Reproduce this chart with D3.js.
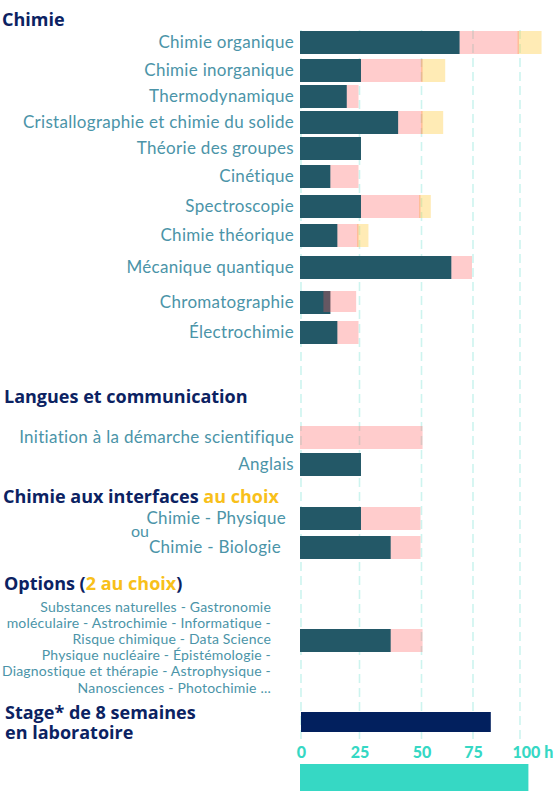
<!DOCTYPE html>
<html lang="fr">
<head>
    <meta charset="UTF-8">
    <script src="https://cdnjs.cloudflare.com/ajax/libs/d3/7.8.5/d3.min.js"></script>
    <style>
        body { margin: 0; background: #fff; }
        svg { display: block; }
    </style>
    <title>Heures de formation</title>
</head>
<body>
    <div id="graph-div"></div>
    <script>
        // categories (one per bar row)
        const categories = [
            "Chimie organique", "Chimie inorganique", "Thermodynamique",
            "Cristallographie et chimie du solide", "Théorie des groupes", "Cinétique",
            "Spectroscopie", "Chimie théorique", "Mécanique quantique", "Chromatographie",
            "Électrochimie", "Initiation à la démarche scientifique", "Anglais",
            "Chimie - Physique", "Chimie - Biologie", "Options", "Stage"
        ];
        // hours: cours (dark), TD (pink), TP (yellow)
        const cours = [69, 26, 20, 41, 26, 13, 26, 16, 65, 13, 16, 0, 26, 26, 38, 38, 0];
        const td    = [31, 25, 5, 10, 0, 12, 24, 9, 10, 11, 9, 51, 0, 24, 12, 13, 0];
        const tp    = [12, 11, 0, 10, 0, 0, 5, 4, 0, 0, 0, 0, 0, 0, 0, 0, 0];
        const tdOverlap = [0, 0, 0, 0, 0, 0, 0, 0, 0, 3, 0, 0, 0, 0, 0, 0, 0];
        const stage = [0, 0, 0, 0, 0, 0, 0, 0, 0, 0, 0, 0, 0, 0, 0, 0, 85];
        const total = [105];
        const tickValues = [0, 25, 50, 75, 100];
        const tickLabels = ["0", "25", "50", "75", "100 h"];
        const optionsText = [
            "Substances naturelles -  Gastronomie",
            "moléculaire - Astrochimie - Informatique  -",
            "Risque chimique  - Data Science",
            "Physique nucléaire - Épistémologie -",
            "Diagnostique et thérapie - Astrophysique -",
            "Nanosciences - Photochimie ..."
        ];

        const w = 555, h = 791;
        const dark = "#235867", pink = "rgba(255,85,85,0.3)", yellow = "rgba(255,200,50,0.36)";
        const navy = "#0b2262", labelCol = "#4b94a8", teal = "#36d8c4", gold = "#f8c01a";
        const font = "Lato, sans-serif";
        const headFont = "'Open Sans', sans-serif";

        // x: piecewise scale, as in the original layout
        const xScale = d3.scaleLinear()
            .domain(tickValues)
            .range([300, 358.5, 420.5, 472, 519]);

        // row layout
        const yScale = d3.scaleOrdinal()
            .domain(categories)
            .range([31, 59, 85, 111, 137, 165, 195, 224, 256, 291, 321, 426, 453, 507, 536, 629, 712]);
        const barH = 23;

        const svg = d3.select("#graph-div").append("svg")
            .attr("width", w).attr("height", h);

        const rows = categories.map((c, i) => ({
            cat: c, cours: cours[i], td: td[i], tp: tp[i], ov: tdOverlap[i], stage: stage[i]
        }));

        // gridlines
        svg.append("g").selectAll("line")
            .data(tickValues).enter().append("line")
            .attr("x1", d => xScale(d) + 1).attr("x2", d => xScale(d) + 1)
            .attr("y1", 30).attr("y2", 740)
            .attr("stroke", "#cdf4ef").attr("stroke-width", 1.6)
            .attr("stroke-dasharray", "9,5");

        const bars = svg.append("g");
        // cours
        bars.selectAll(".cours").data(rows.filter(d => d.cours > 0)).enter().append("rect")
            .attr("class", "cours")
            .attr("x", xScale(0)).attr("y", d => yScale(d.cat))
            .attr("width", d => xScale(d.cours) - xScale(0)).attr("height", barH)
            .attr("fill", dark);
        // TP (under TD edge)
        bars.selectAll(".tp").data(rows.filter(d => d.tp > 0)).enter().append("rect")
            .attr("class", "tp")
            .attr("x", d => xScale(d.cours + d.td) - 1.5).attr("y", d => yScale(d.cat))
            .attr("width", d => xScale(d.cours + d.td + d.tp) - xScale(d.cours + d.td) + 1.5)
            .attr("height", barH)
            .attr("fill", yellow);
        // TD
        bars.selectAll(".td").data(rows.filter(d => d.td > 0)).enter().append("rect")
            .attr("class", "td")
            .attr("x", d => xScale(d.cours - d.ov)).attr("y", d => yScale(d.cat))
            .attr("width", d => xScale(d.cours + d.td) - xScale(d.cours - d.ov))
            .attr("height", d => d.ov > 0 ? barH - 2 : barH)
            .attr("fill", pink);
        // stage
        bars.selectAll(".stage").data(rows.filter(d => d.stage > 0)).enter().append("rect")
            .attr("class", "stage")
            .attr("x", xScale(0) + 1).attr("y", d => yScale(d.cat))
            .attr("width", d => xScale(d.stage) - xScale(0) - 1).attr("height", 20)
            .attr("fill", "#02205e");

        // row labels
        const labelRows = rows.filter(d => d.cat !== "Options" && d.cat !== "Stage");
        const labelX = { "Chimie - Physique": 286, "Chimie - Biologie": 281 };
        svg.append("g").selectAll("text").data(labelRows).enter().append("text")
            .attr("x", d => labelX[d.cat] || 294)
            .attr("y", d => yScale(d.cat) + barH / 2)
            .attr("dy", "0.35em")
            .attr("text-anchor", "end")
            .style("font-family", font).style("font-size", "17px")
            .style("letter-spacing", "0.3px")
            .attr("fill", labelCol)
            .text(d => d.cat);

        svg.append("text").attr("x", 131).attr("y", yScale("Chimie - Physique") + 30)
            .style("font-family", font).style("font-size", "16px")
            .attr("fill", labelCol).text("ou");

        // options block
        const optY = yScale("Options") + barH / 2;
        svg.append("g").selectAll("text").data(optionsText).enter().append("text")
            .attr("x", 271)
            .attr("y", (d, i) => optY + (i - 2) * 16.2 - 1.5)
            .attr("dy", "0.35em")
            .attr("text-anchor", "end")
            .style("font-family", font).style("font-size", "14px")
            .style("letter-spacing", "0.2px")
            .attr("fill", labelCol)
            .text(d => d);

        // headings
        const heading = (x, y, parts) => {
            const t = svg.append("text").attr("x", x).attr("y", y).attr("dy", "0.35em")
                .style("font-family", headFont).style("font-size", "18px").style("font-weight", 700);
            parts.forEach(p => t.append("tspan").attr("fill", p[1]).text(p[0]));
            return t;
        };
        heading(2, 20, [["Chimie", navy]]);
        heading(4, 397, [["Langues et communication", navy]]);
        heading(3, 497, [["Chimie aux interfaces ", navy], ["au choix", gold]]);
        heading(4, 584, [["Options (", navy], ["2 au choix", gold], [")", navy]]);
        const st = heading(5, yScale("Stage") + 1, [["Stage* de 8 semaines", navy]]);
        st.append("tspan").attr("x", 5).attr("dy", 20).attr("fill", navy).text("en laboratoire");

        // axis
        const xAxis = d3.axisBottom(xScale)
            .tickValues(tickValues)
            .tickSize(0)
            .tickFormat((d, i) => tickLabels[i]);
        const ax = svg.append("g")
            .attr("transform", "translate(1, 744)")
            .call(xAxis);
        ax.select(".domain").remove();
        ax.selectAll("text")
            .style("font-family", font).style("font-size", "16px").style("font-weight", 900)
            .attr("fill", teal);
        ax.selectAll(".tick:last-of-type text").attr("text-anchor", "start").attr("x", -8);

        // total banner
        svg.append("g").selectAll("rect").data(total).enter().append("rect")
            .attr("x", xScale(0)).attr("y", 764)
            .attr("width", d => xScale(d) - xScale(0)).attr("height", 27)
            .attr("fill", teal);
    </script>
</body>
</html>
